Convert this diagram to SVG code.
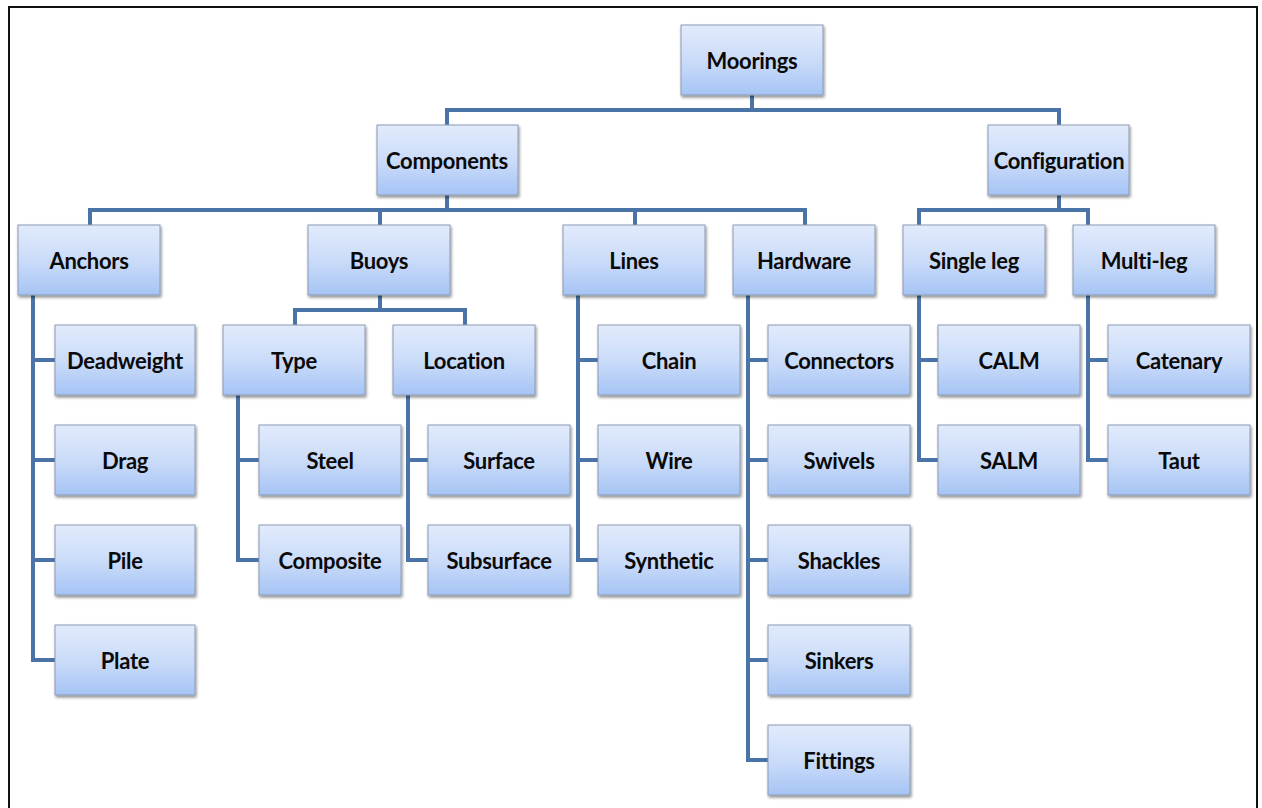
<svg xmlns="http://www.w3.org/2000/svg" width="1262" height="808" viewBox="0 0 1262 808">
<defs>
<linearGradient id="g" x1="0" y1="0" x2="0" y2="1">
<stop offset="0" stop-color="#e2ebfc"/>
<stop offset="0.5" stop-color="#cbdcf9"/>
<stop offset="1" stop-color="#a6c4f4"/>
</linearGradient>
<filter id="sh" x="-10%" y="-10%" width="125%" height="130%">
<feGaussianBlur in="SourceAlpha" stdDeviation="1.5"/>
<feOffset dx="1" dy="2" result="b"/>
<feComponentTransfer><feFuncA type="linear" slope="0.45"/></feComponentTransfer>
<feMerge><feMergeNode/><feMergeNode in="SourceGraphic"/></feMerge>
</filter>
</defs>
<style>
.n rect{fill:url(#g);stroke:#8b9bb6;stroke-width:1;filter:url(#sh)}
.n text{font-family:Lato,"Open Sans","Liberation Sans",sans-serif;font-weight:bold;font-size:22px;letter-spacing:-0.3px;fill:#0a0a0a;text-anchor:middle}
.c path{fill:none;stroke:#4a74a8;stroke-width:4}
</style>
<rect x="0" y="0" width="1262" height="808" fill="#fff"/>
<rect x="9" y="7" width="1248" height="820" fill="none" stroke="#111" stroke-width="2"/>
<g class="c">
<path d="M752 95V110M447 125V110H1059V125"/>
<path d="M447 195V210M90 225V210H805V225M380 210V225M635 210V225"/>
<path d="M1059 195V210M919 225V210H1088V225"/>
<path d="M33 295V660H55M33 360H55M33 460H55M33 560H55"/>
<path d="M380 295V310M295 325V310H465V325"/>
<path d="M238 395V560H259M238 460H259"/>
<path d="M408 395V560H428M408 460H428"/>
<path d="M578 295V560H598M578 360H598M578 460H598"/>
<path d="M748 295V760H768M748 360H768M748 460H768M748 560H768M748 660H768"/>
<path d="M919 295V460H938M919 360H938"/>
<path d="M1088 295V460H1108M1088 360H1108"/>
</g>
<g class="n" id="moorings"><rect x="681" y="25" width="142" height="70"/><text x="752" y="69">Moorings</text></g>
<g class="n" id="components"><rect x="377" y="125" width="141" height="70"/><text x="447" y="169">Components</text></g>
<g class="n" id="configuration"><rect x="988" y="125" width="141" height="70"/><text x="1059" y="169">Configuration</text></g>
<g class="n" id="anchors"><rect x="18" y="225" width="142" height="70"/><text x="89" y="269">Anchors</text></g>
<g class="n" id="buoys"><rect x="308" y="225" width="142" height="70"/><text x="379" y="269">Buoys</text></g>
<g class="n" id="lines"><rect x="563" y="225" width="142" height="70"/><text x="634" y="269">Lines</text></g>
<g class="n" id="hardware"><rect x="733" y="225" width="142" height="70"/><text x="804" y="269">Hardware</text></g>
<g class="n" id="singleleg"><rect x="903" y="225" width="142" height="70"/><text x="974" y="269">Single leg</text></g>
<g class="n" id="multileg"><rect x="1073" y="225" width="142" height="70"/><text x="1144" y="269">Multi-leg</text></g>
<g class="n" id="deadweight"><rect x="55" y="325" width="140" height="70"/><text x="125" y="369">Deadweight</text></g>
<g class="n" id="drag"><rect x="55" y="425" width="140" height="70"/><text x="125" y="469">Drag</text></g>
<g class="n" id="pile"><rect x="55" y="525" width="140" height="70"/><text x="125" y="569">Pile</text></g>
<g class="n" id="plate"><rect x="55" y="625" width="140" height="70"/><text x="125" y="669">Plate</text></g>
<g class="n" id="type"><rect x="223" y="325" width="142" height="70"/><text x="294" y="369">Type</text></g>
<g class="n" id="location"><rect x="393" y="325" width="142" height="70"/><text x="464" y="369">Location</text></g>
<g class="n" id="steel"><rect x="259" y="425" width="142" height="70"/><text x="330" y="469">Steel</text></g>
<g class="n" id="composite"><rect x="259" y="525" width="142" height="70"/><text x="330" y="569">Composite</text></g>
<g class="n" id="surface"><rect x="428" y="425" width="142" height="70"/><text x="499" y="469">Surface</text></g>
<g class="n" id="subsurface"><rect x="428" y="525" width="142" height="70"/><text x="499" y="569">Subsurface</text></g>
<g class="n" id="chain"><rect x="598" y="325" width="142" height="70"/><text x="669" y="369">Chain</text></g>
<g class="n" id="wire"><rect x="598" y="425" width="142" height="70"/><text x="669" y="469">Wire</text></g>
<g class="n" id="synthetic"><rect x="598" y="525" width="142" height="70"/><text x="669" y="569">Synthetic</text></g>
<g class="n" id="connectors"><rect x="768" y="325" width="142" height="70"/><text x="839" y="369">Connectors</text></g>
<g class="n" id="swivels"><rect x="768" y="425" width="142" height="70"/><text x="839" y="469">Swivels</text></g>
<g class="n" id="shackles"><rect x="768" y="525" width="142" height="70"/><text x="839" y="569">Shackles</text></g>
<g class="n" id="sinkers"><rect x="768" y="625" width="142" height="70"/><text x="839" y="669">Sinkers</text></g>
<g class="n" id="fittings"><rect x="768" y="725" width="142" height="70"/><text x="839" y="769">Fittings</text></g>
<g class="n" id="calm"><rect x="938" y="325" width="142" height="70"/><text x="1009" y="369">CALM</text></g>
<g class="n" id="salm"><rect x="938" y="425" width="142" height="70"/><text x="1009" y="469">SALM</text></g>
<g class="n" id="catenary"><rect x="1108" y="325" width="142" height="70"/><text x="1179" y="369">Catenary</text></g>
<g class="n" id="taut"><rect x="1108" y="425" width="142" height="70"/><text x="1179" y="469">Taut</text></g>
</svg>
